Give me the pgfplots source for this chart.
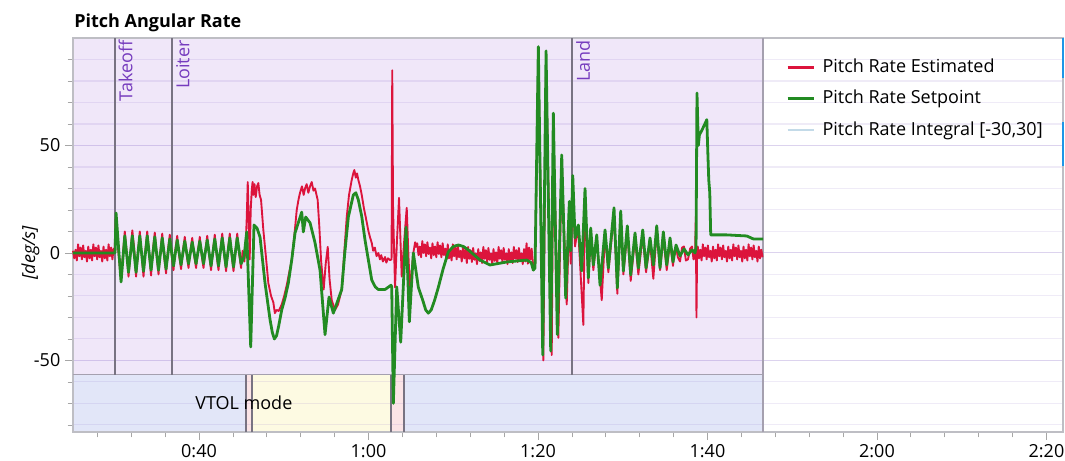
\documentclass[border=0pt]{standalone}
\usepackage{pgfplots}
\pgfplotsset{compat=1.18}
\usetikzlibrary{calc}
\usepackage{fontspec}
\setmainfont{Open Sans}
\definecolor{est}{RGB}{220,20,60}
\definecolor{spt}{RGB}{34,139,34}
\definecolor{integ}{RGB}{195,218,232}
\definecolor{purp}{RGB}{240,231,249}
\definecolor{bandblue}{RGB}{226,230,248}
\definecolor{bandyel}{RGB}{253,250,226}
\definecolor{bandpink}{RGB}{251,228,230}
\definecolor{evline}{RGB}{120,115,130}
\definecolor{evtext}{RGB}{118,60,190}
\definecolor{gridc}{RGB}{140,110,200}
\definecolor{axc}{RGB}{190,190,196}
\definecolor{bord}{RGB}{165,160,175}
\definecolor{selblue}{RGB}{30,150,230}
\newcommand{\fs}{\fontsize{13.5}{16}\selectfont}
\begin{document}
\begin{tikzpicture}
\begin{axis}[
  set layers,
  scale only axis,
  width=742.5pt, height=295.5pt,
  xmin=25.13, xmax=141.95, ymin=-83.3, ymax=100,
  clip=false,
  axis line style={draw=axc, line width=0.8pt},
  xtick={40,60,80,100,120,140},
  xticklabels={0:40,1:00,1:20,1:40,2:00,2:20},
  minor xtick={28,32,36,44,48,52,56,64,68,72,76,84,88,92,96,104,108,112,116,124,128,132,136},
  ytick={-50,0,50}, yticklabels={-50,0,50},
  minor ytick={-80,-70,-60,-40,-30,-20,-10,10,20,30,40,60,70,80,90},
  ymajorgrids, yminorgrids,
  major grid style={draw=gridc, draw opacity=0.3, line width=0.8pt},
  minor grid style={draw=gridc, draw opacity=0.14, line width=0.8pt},
  tick align=outside, xtick pos=bottom, ytick pos=left,
  major tick length=6pt, minor tick length=4pt,
  every tick/.style={draw=gray!70, line width=0.6pt},
  tick label style={font=\fs},
  ylabel={\itshape [deg/s]},
  ylabel style={font=\fs, at={(axis description cs:-0.043,0.455)}, anchor=center},
  legend style={draw=none, fill=none, font=\fs, at={(rel axis cs:0.7202,0.949)}, anchor=north west,
    inner sep=0pt, row sep=10pt, column sep=5pt,
    nodes={inner sep=0pt, text height=10.5pt, text depth=3pt}},
  legend cell align=left,
  legend image code/.code={\draw[#1, line width=2.2pt] (0pt,0pt) -- (20pt,0pt);},
]
% backgrounds
\addplot[on layer=axis background, fill=purp, draw=none, forget plot] coordinates {(25.13,-56.7) (106.55,-56.7) (106.55,100) (25.13,100)} -- cycle;
\addplot[on layer=axis background, fill=bandblue, draw=none, forget plot] coordinates {(25.13,-83.3) (45.55,-83.3) (45.55,-56.7) (25.13,-56.7)} -- cycle;
\addplot[on layer=axis background, fill=bandpink, draw=none, forget plot] coordinates {(45.55,-83.3) (46.25,-83.3) (46.25,-56.7) (45.55,-56.7)} -- cycle;
\addplot[on layer=axis background, fill=bandyel, draw=none, forget plot] coordinates {(46.25,-83.3) (62.66,-83.3) (62.66,-56.7) (46.25,-56.7)} -- cycle;
\addplot[on layer=axis background, fill=bandpink, draw=none, forget plot] coordinates {(62.66,-83.3) (64.19,-83.3) (64.19,-56.7) (62.66,-56.7)} -- cycle;
\addplot[on layer=axis background, fill=bandblue, draw=none, forget plot] coordinates {(64.19,-83.3) (106.55,-83.3) (106.55,-56.7) (64.19,-56.7)} -- cycle;
% borders
\addplot[bord, line width=1pt, forget plot] coordinates {(25.13,-56.7) (106.55,-56.7)};
\addplot[bord, line width=1pt, forget plot] coordinates {(106.55,-83.3) (106.55,100)};
\addplot[evline, line width=0.9pt, forget plot] coordinates {(45.55,-83.3) (45.55,-56.7)};
\addplot[evline, line width=0.9pt, forget plot] coordinates {(46.25,-83.3) (46.25,-56.7)};
\addplot[evline, line width=0.9pt, forget plot] coordinates {(62.66,-83.3) (62.66,-56.7)};
\addplot[evline, line width=0.9pt, forget plot] coordinates {(64.19,-83.3) (64.19,-56.7)};
% event lines
\addplot[evline, line width=1pt, forget plot] coordinates {(30.09,-56.7) (30.09,100)};
\addplot[evline, line width=1pt, forget plot] coordinates {(36.81,-56.7) (36.81,100)};
\addplot[evline, line width=1pt, forget plot] coordinates {(84.01,-56.7) (84.01,100)};
% estimated
\addplot[est, line width=1.4pt, line join=round] coordinates {
(25.13,1) (25.28,-2.5) (25.43,1.5) (25.58,-3.5) (25.73,4) (25.88,-1.5) (26.03,2.5) (26.18,-3) (26.33,3.5) (26.48,-2) (26.63,1) (26.78,-4) (26.93,3) (27.08,-2.5) (27.23,1.5) (27.38,-3.5) (27.53,4) (27.68,-1.5) (27.83,2.5) (27.98,-3) (28.13,3.5) (28.28,-2) (28.43,1) (28.58,-4) (28.73,3) (28.88,-2.5) (29.03,1.5) (29.18,-3.5) (29.33,4) (29.48,-1.5) (29.63,2.5) (29.78,-3) (29.93,2)
(30.05,2) (30.2,17) (30.4,4) (30.78,-12) (31.0,-2) (31.24,10) (31.45,1) (31.68,-11) (31.9,-1) (32.13,10.5) (32.35,2) (32.57,-11) (32.8,0) (33.01,10) (33.23,-1) (33.45,-11) (33.67,1) (33.89,10) (34.1,0) (34.34,-10.5) (34.56,1.5) (34.78,9.5) (35.0,-1) (35.22,-10) (35.44,0.5) (35.66,9) (35.88,-1.5) (36.11,-9.5) (36.33,1) (36.55,8.5) (36.77,-1) (36.99,-8) (37.21,1.5) (37.43,8) (37.65,-1) (37.88,-7.5) (38.1,1) (38.32,7.5) (38.54,-0.5) (38.76,-7) (38.98,1) (39.20,7) (39.42,-1) (39.65,-7) (39.87,0.5) (40.09,7.5) (40.31,-1) (40.53,-7) (40.75,1) (40.97,8) (41.2,-1) (41.42,-8) (41.64,1) (41.86,8.5) (42.08,-1) (42.30,-8) (42.52,1) (42.74,9) (42.96,0) (43.19,-8.5) (43.41,1) (43.63,9) (43.85,-1) (44.07,-8.5) (44.29,0.5) (44.51,9) (44.73,0) (44.96,-7) (45.15,1) (45.35,-4) (45.5,3)
(45.63,16) (45.75,33) (45.98,-3) (46.1,20) (46.22,29) (46.32,33) (46.41,27) (46.55,32) (46.69,26) (46.85,31) (47.0,32.5) (47.15,27) (47.32,24.7) (47.59,10.7) (47.9,-2) (48.18,-14) (48.5,-20) (48.77,-23) (48.95,-28) (49.17,-26.5) (49.4,-27) (49.76,-24) (50.05,-20) (50.35,-15) (50.65,-9) (50.94,-3.3) (51.25,8) (51.53,20) (51.75,25) (51.92,28) (52.15,31) (52.35,27) (52.51,30) (52.7,32) (52.9,28) (53.1,31) (53.3,33) (53.5,29) (53.69,30) (54.0,24.7) (54.2,12) (54.4,-3.3) (54.55,-10) (54.71,-17) (54.95,-5) (55.19,2.8) (55.4,-12) (55.66,-22) (56.05,-26.5) (56.4,-24) (56.84,-17) (57.1,-2) (57.43,16.7) (57.7,27) (58.02,34) (58.2,37) (58.33,38.6) (58.5,35) (58.65,37) (58.8,34) (59.0,31) (59.2,27) (59.45,21) (59.67,16.7) (60.0,10) (60.2,7) (60.38,4.7) (60.55,1) (60.75,2.5) (60.95,-1.5) (61.16,0) (61.35,-3) (61.5,-1) (61.7,-4) (61.95,-1.9) (62.1,-4.5) (62.3,-2.5) (62.54,-3.3) (62.72,-3) (62.8,85) (62.9,20) (63.13,-16) (63.35,5) (63.6,25.6) (63.92,-11) (64.2,5) (64.51,21) (64.7,0) (64.9,-18.6) (65.1,-8) (65.29,0) (65.5,5) (65.6,2.8)
(65.75,4.5) (65.9,-1) (66.05,3) (66.2,-2) (66.35,5.5) (66.5,0) (66.65,4) (66.8,-1.5) (66.95,5) (67.1,-0.5) (67.25,2.5) (67.4,-2.5) (67.55,4.5) (67.7,-1) (67.85,3) (68.0,-2) (68.15,5) (68.3,-0.5) (68.45,3.5) (68.6,-2) (68.75,4.5) (68.9,-1) (69.05,2) (69.2,-3) (69.35,4) (69.5,-2.5) (69.65,1.5) (69.8,-3.5) (69.95,4) (70.1,-1.5) (70.25,2.5) (70.4,-3) (70.55,3.5) (70.7,-2) (70.85,1) (71.0,-4) (71.15,3) (71.3,-2.5) (71.45,1.5) (71.6,-4.7) (71.75,2.8) (71.9,-2.7) (72.05,1.3) (72.2,-4.2) (72.35,2.3) (72.5,-3.2) (72.65,-0.2) (72.8,-5.2) (72.95,1.8) (73.1,-3.7) (73.25,0.3) (73.4,-4.7) (73.55,2.8) (73.7,-2.7) (73.85,1.3) (74.0,-4.2) (74.15,2.3) (74.3,-3.2) (74.45,-0.2) (74.6,-5.2) (74.75,1.8) (74.9,-3.7) (75.05,0.3) (75.2,-4.7) (75.35,2.8) (75.5,-2.7) (75.65,1.3) (75.8,-4.2) (75.95,2.3) (76.1,-3.2) (76.25,-0.2) (76.4,-5.2) (76.55,1.8) (76.7,-3.7) (76.85,0.3) (77.0,-4.7) (77.15,2.8) (77.3,-2.7) (77.45,1.3) (77.6,-4.2) (77.75,2.3) (77.9,-3.2) (78.05,-0.2) (78.2,-5.2) (78.35,1.8) (78.5,-4) (78.65,4.5) (78.8,-5) (78.95,2.5) (79.1,-3) (79.25,2) (79.45,-7)
(79.65,-6) (80.04,90) (80.63,-50) (80.95,88) (81.62,-47.5) (81.81,58) (82.40,-39.5) (82.80,42) (83.39,-24) (83.70,20) (83.86,-5) (84.10,30) (84.37,3) (84.56,8) (84.76,10) (85.35,-33.5) (85.55,25) (85.94,-14) (86.22,10) (86.53,-8) (86.93,7) (87.52,-22) (87.91,9) (88.30,-9) (88.97,18) (89.36,-19) (89.76,17) (90.07,-10) (90.54,10) (90.94,-13) (91.45,7) (91.84,-10) (92.36,8) (92.75,-9) (93.22,5) (93.61,-12) (94.01,10) (94.40,-8) (94.79,7) (95.19,-8) (95.58,5) (95.93,-6) (96.1,1) (96.29,3) (96.5,-2) (96.76,-4) (97.0,2.5) (97.23,3) (97.45,-3.5) (97.70,-3) (97.95,2) (98.17,3) (98.35,-3) (98.53,-2) (98.62,17) (98.70,-30) (98.78,2)
(98.85,3) (99.0,-2.5) (99.15,1.5) (99.3,-3.5) (99.45,4) (99.6,-1.5) (99.75,2.5) (99.9,-3) (100.05,3.5) (100.2,-2) (100.35,1) (100.5,-4) (100.65,3) (100.8,-2.5) (100.95,1.5) (101.1,-3.5) (101.25,4) (101.4,-1.5) (101.55,2.5) (101.7,-3) (101.85,3.5) (102.0,-2) (102.15,1) (102.3,-4) (102.45,3) (102.6,-2.5) (102.75,1.5) (102.9,-3.5) (103.05,4) (103.2,-1.5) (103.35,2.5) (103.5,-3) (103.65,3.5) (103.8,-2) (103.95,1) (104.1,-4) (104.25,3) (104.4,-2.5) (104.55,1.5) (104.7,-3.5) (104.85,4) (105.0,-1.5) (105.15,2.5) (105.3,-3) (105.45,3.5) (105.6,-2) (105.75,1) (105.9,-4) (106.05,3) (106.2,-2.5) (106.35,1.5) (106.5,-2)
};
\addlegendentry{Pitch Rate Estimated}
% setpoint
\addplot[spt, line width=2.1pt, line join=round] coordinates {
(25.13,0) (30.0,0) (30.09,0) (30.21,18.6) (30.80,-13.5) (31.24,8) (31.68,-9) (32.13,8) (32.57,-9) (33.01,8) (33.45,-8.5) (33.89,8) (34.34,-8) (34.78,7.5) (35.22,-8) (35.66,7) (36.11,-7.5) (36.55,6.5) (36.99,-6) (37.43,6) (37.88,-5.5) (38.32,5.5) (38.76,-5) (39.20,5) (39.65,-5) (40.09,5.5) (40.53,-5) (40.97,6) (41.42,-6) (41.86,6.5) (42.30,-6) (42.74,7) (43.19,-6.5) (43.63,7) (44.07,-6.5) (44.51,7) (44.96,-5) (45.31,-2)
(45.63,9.8) (46.10,-43.7) (46.49,13) (46.85,11.5) (47.20,7.4) (47.79,-14) (48.38,-31) (48.65,-37) (48.89,-40) (49.15,-38.5) (49.4,-34) (49.76,-26.5) (50.15,-21) (50.54,-14) (50.95,-3) (51.33,9.3) (52.12,19) (52.31,9.8) (52.59,16.7) (53.10,14) (53.69,4.7) (54.28,-8) (54.87,-38) (55.34,-20.5) (55.85,-28) (56.84,-17) (57.2,0) (57.62,16.7) (58.21,27) (58.5,28) (58.80,24.7) (59.2,17) (59.59,6) (60.38,-12.6) (60.8,-15.8) (61.16,-17) (61.95,-17) (62.66,-15) (62.74,-15.8) (62.93,-70) (63.33,-15.8) (63.80,-41.5) (64.43,12) (64.82,-32) (65.29,0) (65.88,-16) (66.4,-22) (66.75,-26.5) (67.06,-28) (67.4,-26.5) (67.8,-22) (68.24,-16) (68.8,-7.5) (69.42,0.5) (70.0,3) (70.60,3.7) (71.2,3) (71.78,1.4) (73.16,-3.3) (74.34,-5.6) (76.31,-4.2) (78.67,-3.3) (79.2,-4.5) (79.45,-8) (79.65,-7)
(80.04,96) (80.56,-47.5) (80.95,94) (81.50,-45.6) (81.81,65) (82.28,-38) (82.80,45.6) (83.27,-21) (83.70,24) (83.86,1) (84.10,36) (84.37,7) (84.76,13) (85.16,-8.4) (85.55,30) (85.94,-11.6) (86.22,11.6) (86.53,-5.6) (86.93,8.4) (87.32,-15) (87.91,10.7) (88.30,-7) (88.97,21) (89.36,-16.3) (89.76,19.5) (90.07,-8.4) (90.54,12.6) (90.94,-10.2) (91.45,9.3) (91.84,-7) (92.36,10.7) (92.75,-7) (93.22,7) (93.61,-5.6) (94.01,12.6) (94.40,-7) (94.79,9.8) (95.19,-5.6) (95.58,7) (95.93,-4.2) (96.29,3.7) (96.76,-1.4) (97.23,1.9) (97.70,-0.9) (98.17,1.4) (98.53,0) (98.65,2.8) (98.76,74.4) (98.92,50) (99.05,55) (99.33,57) (99.52,58.6) (99.92,62) (100.03,48) (100.15,34) (100.27,28) (100.38,8.4) (102.27,8.4) (104.63,7.9) (105.42,6.5) (106.55,6.5)
};
\addlegendentry{Pitch Rate Setpoint}
\addlegendimage{integ, line width=2.2pt}
\addlegendentry{Pitch Rate Integral [-30,30]}
% labels
\node[rotate=90, anchor=north east, text=evtext, font=\fs, inner sep=0pt] at ($(axis cs:30.09,100)+(2.5pt,-1.5pt)$) {Takeoff};
\node[rotate=90, anchor=north east, text=evtext, font=\fs, inner sep=0pt] at ($(axis cs:36.81,100)+(3pt,-1.5pt)$) {Loiter};
\node[rotate=90, anchor=north east, text=evtext, font=\fs, inner sep=0pt] at ($(axis cs:84.01,100)+(3pt,-1.5pt)$) {Land};
\node[anchor=west, font=\fs, inner sep=0pt] at (axis cs:39.53,-69.8) {VTOL mode};
\node[anchor=base west, font=\fs\bfseries, inner sep=0pt] at ($(rel axis cs:0,1)+(0.75pt,7.5pt)$) {Pitch Angular Rate};
\draw[selblue, line width=1.5pt] (rel axis cs:1,1) -- (rel axis cs:1,0.898);
\draw[selblue, line width=1.5pt] (rel axis cs:1,0.786) -- (rel axis cs:1,0.675);
\end{axis}
\pgfresetboundingbox
\path[use as bounding box] (-54.75pt,-21.75pt) rectangle (744pt,324pt);
\end{tikzpicture}
\end{document}
